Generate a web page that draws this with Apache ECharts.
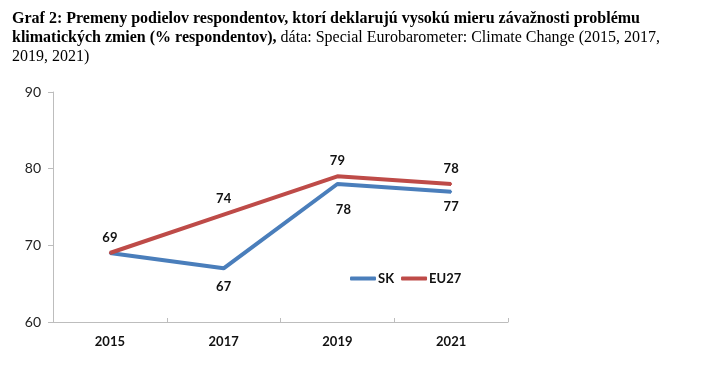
<!DOCTYPE html>
<html><head><meta charset="utf-8">
<script src="https://cdn.jsdelivr.net/npm/echarts@6/dist/echarts.min.js"></script>
<style>html,body{margin:0;padding:0;background:#fff}#c{width:712px;height:378px}</style>
</head><body><div id="c"></div>
<script>
const years = ['2015', '2017', '2019', '2021'];
const skValues = [69, 67, 78, 77];
const euValues = [69, 74, 79, 78];
const yTicks = [60, 70, 80, 90];
const titleLines = [
  [['b', 'Graf 2: Premeny podielov respondentov, ktorí deklarujú vysokú mieru závažnosti problému']],
  [['b', 'klimatických zmien (% respondentov),'], ['n', ' dáta: Special Eurobarometer: Climate Change (2015, 2017,']],
  [['n', '2019, 2021)']]
];

const chart = echarts.init(document.getElementById('c'));
const lab = {fontFamily: 'Lato, "Open Sans", sans-serif', fontWeight: 'bold', fontSize: 13, color: '#111'};
chart.setOption({
  animation: false,
  backgroundColor: '#fff',
  title: {
    left: 7, top: 4,
    text: titleLines.map(l => l.map(p => '{' + p[0] + '|' + p[1] + '}').join('')).join('\n'),
    textStyle: {
      rich: {
        b: {fontFamily: '"Liberation Serif", serif', fontWeight: 'bold', fontSize: 16, lineHeight: 19, color: '#000'},
        n: {fontFamily: '"Liberation Serif", serif', fontWeight: 'normal', fontSize: 16, lineHeight: 19, color: '#000'}
      }
    }
  },
  legend: {
    left: 345, top: 267,
    icon: 'roundRect', itemWidth: 26, itemHeight: 4, itemGap: 7,
    textStyle: {fontFamily: 'Lato, "Open Sans", sans-serif', fontWeight: 'bold', fontSize: 13, color: '#111', padding: [0, 0, 0, -3]},
    data: ['SK', 'EU27']
  },
  grid: {left: 53, right: 204, top: 92, bottom: 56},
  xAxis: {
    type: 'category', data: years, boundaryGap: true,
    axisLine: {lineStyle: {color: '#bdbdbd', width: 1}},
    axisTick: {show: true, interval: 0, alignWithLabel: false, length: 4, inside: true, lineStyle: {color: '#bdbdbd'}},
    axisLabel: {fontFamily: 'Lato, "Open Sans", sans-serif', fontWeight: 'bold', fontSize: 13, color: '#111', margin: 13}
  },
  yAxis: {
    type: 'value', min: yTicks[0], max: yTicks[yTicks.length - 1], interval: 10,
    axisLine: {show: true, lineStyle: {color: '#bdbdbd', width: 1}},
    axisTick: {show: true, length: 5, lineStyle: {color: '#bdbdbd'}},
    splitLine: {show: false},
    axisLabel: {fontFamily: 'Lato, "Open Sans", sans-serif', fontSize: 14, color: '#222', margin: 12}
  },
  series: [
    {
      name: 'SK', type: 'line', data: skValues.map((v, i) => {
        const d = {value: v};
        if (i === 0) d.label = {show: false};
        if (i === 1) d.label = {distance: 11};
        if (i === 2) d.label = {offset: [6, 10]};
        return d;
      }),
      symbol: 'circle', symbolSize: 2, showSymbol: true, color: '#4a7ebb',
      itemStyle: {color: '#4a7ebb'},
      lineStyle: {width: 4, color: '#4a7ebb'},
      label: Object.assign({show: true, position: 'bottom', distance: 8}, lab)
    },
    {
      name: 'EU27', type: 'line', data: euValues,
      symbol: 'circle', symbolSize: 2, showSymbol: true, color: '#be4b48',
      itemStyle: {color: '#be4b48'},
      lineStyle: {width: 4, color: '#be4b48'},
      label: Object.assign({show: true, position: 'top', distance: 8}, lab)
    }
  ]
});
</script></body></html>
